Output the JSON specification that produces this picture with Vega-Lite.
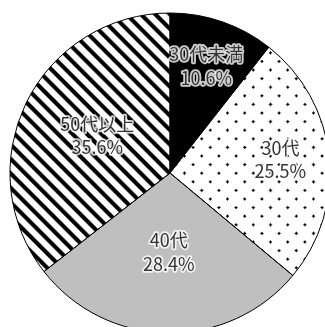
{
  "$schema": "https://vega.github.io/schema/vega-lite/v6.json",
  "width": 325,
  "height": 327,
  "autosize": "none",
  "padding": 0,
  "background": "white",
  "view": {"stroke": null},
  "data": {"values": [
    {"age": "30代未満", "value": 10.6, "order": 1},
    {"age": "30代", "value": 25.5, "order": 2},
    {"age": "40代", "value": 28.4, "order": 3},
    {"age": "50代以上", "value": 35.6, "order": 4}
  ]},
  "transform": [
    {"stack": "value", "groupby": [], "sort": [{"field": "order", "order": "ascending"}], "as": ["v0", "v1"]},
    {"calculate": "(datum.v0 + datum.v1) / 2", "as": "mid"},
    {"calculate": "datum.age + '\\n' + format(datum.value, '.1f') + '%'", "as": "label"}
  ],
  "layer": [
    {
      "mark": {"type": "arc", "x": 170, "y": 173, "outerRadius": 160},
      "encoding": {
        "theta": {"field": "v0", "type": "quantitative", "scale": {"domain": [0, 100.1], "nice": false, "zero": true}},
        "theta2": {"field": "v1"},
        "fill": {"field": "age", "type": "nominal", "scale": {"domain": ["30代未満", "30代", "40代", "50代以上"], "range": ["#000000", "#ffffff", "#bfbfbf", "#ffffff"]}, "legend": null}
      }
    },
    {
      "transform": [{"filter": "datum.age === '50代以上'"}],
      "mark": {"type": "arc", "x": 170, "y": 173, "outerRadius": 160,
        "fill": {"gradient": "linear", "x1": 0, "y1": 1, "x2": 0.7243, "y2": -0.1706, "stops": [
          {"offset": 0, "color": "#000"}, {"offset": 0.0032, "color": "#fff"},
          {"offset": 0.0196, "color": "#fff"}, {"offset": 0.0239, "color": "#000"}, {"offset": 0.0335, "color": "#000"}, {"offset": 0.0378, "color": "#fff"},
          {"offset": 0.0542, "color": "#fff"}, {"offset": 0.0585, "color": "#000"}, {"offset": 0.0681, "color": "#000"}, {"offset": 0.0724, "color": "#fff"},
          {"offset": 0.0887, "color": "#fff"}, {"offset": 0.0930, "color": "#000"}, {"offset": 0.1026, "color": "#000"}, {"offset": 0.1069, "color": "#fff"},
          {"offset": 0.1233, "color": "#fff"}, {"offset": 0.1276, "color": "#000"}, {"offset": 0.1372, "color": "#000"}, {"offset": 0.1415, "color": "#fff"},
          {"offset": 0.1579, "color": "#fff"}, {"offset": 0.1622, "color": "#000"}, {"offset": 0.1718, "color": "#000"}, {"offset": 0.1761, "color": "#fff"},
          {"offset": 0.1924, "color": "#fff"}, {"offset": 0.1967, "color": "#000"}, {"offset": 0.2063, "color": "#000"}, {"offset": 0.2106, "color": "#fff"},
          {"offset": 0.2270, "color": "#fff"}, {"offset": 0.2313, "color": "#000"}, {"offset": 0.2409, "color": "#000"}, {"offset": 0.2452, "color": "#fff"},
          {"offset": 0.2616, "color": "#fff"}, {"offset": 0.2659, "color": "#000"}, {"offset": 0.2755, "color": "#000"}, {"offset": 0.2798, "color": "#fff"},
          {"offset": 0.2961, "color": "#fff"}, {"offset": 0.3004, "color": "#000"}, {"offset": 0.3100, "color": "#000"}, {"offset": 0.3143, "color": "#fff"},
          {"offset": 0.3307, "color": "#fff"}, {"offset": 0.3350, "color": "#000"}, {"offset": 0.3446, "color": "#000"}, {"offset": 0.3489, "color": "#fff"},
          {"offset": 0.3653, "color": "#fff"}, {"offset": 0.3696, "color": "#000"}, {"offset": 0.3792, "color": "#000"}, {"offset": 0.3835, "color": "#fff"},
          {"offset": 0.3998, "color": "#fff"}, {"offset": 0.4041, "color": "#000"}, {"offset": 0.4137, "color": "#000"}, {"offset": 0.4180, "color": "#fff"},
          {"offset": 0.4344, "color": "#fff"}, {"offset": 0.4387, "color": "#000"}, {"offset": 0.4483, "color": "#000"}, {"offset": 0.4526, "color": "#fff"},
          {"offset": 0.4690, "color": "#fff"}, {"offset": 0.4733, "color": "#000"}, {"offset": 0.4829, "color": "#000"}, {"offset": 0.4872, "color": "#fff"},
          {"offset": 0.5035, "color": "#fff"}, {"offset": 0.5078, "color": "#000"}, {"offset": 0.5174, "color": "#000"}, {"offset": 0.5217, "color": "#fff"},
          {"offset": 0.5381, "color": "#fff"}, {"offset": 0.5424, "color": "#000"}, {"offset": 0.5520, "color": "#000"}, {"offset": 0.5563, "color": "#fff"},
          {"offset": 0.5727, "color": "#fff"}, {"offset": 0.5770, "color": "#000"}, {"offset": 0.5866, "color": "#000"}, {"offset": 0.5909, "color": "#fff"},
          {"offset": 0.6072, "color": "#fff"}, {"offset": 0.6115, "color": "#000"}, {"offset": 0.6211, "color": "#000"}, {"offset": 0.6254, "color": "#fff"},
          {"offset": 0.6418, "color": "#fff"}, {"offset": 0.6461, "color": "#000"}, {"offset": 0.6557, "color": "#000"}, {"offset": 0.6600, "color": "#fff"},
          {"offset": 0.6764, "color": "#fff"}, {"offset": 0.6807, "color": "#000"}, {"offset": 0.6903, "color": "#000"}, {"offset": 0.6946, "color": "#fff"},
          {"offset": 0.7109, "color": "#fff"}, {"offset": 0.7152, "color": "#000"}, {"offset": 0.7248, "color": "#000"}, {"offset": 0.7291, "color": "#fff"},
          {"offset": 0.7455, "color": "#fff"}, {"offset": 0.7498, "color": "#000"}, {"offset": 0.7594, "color": "#000"}, {"offset": 0.7637, "color": "#fff"},
          {"offset": 0.7801, "color": "#fff"}, {"offset": 0.7844, "color": "#000"}, {"offset": 0.7940, "color": "#000"}, {"offset": 0.7983, "color": "#fff"},
          {"offset": 0.8146, "color": "#fff"}, {"offset": 0.8189, "color": "#000"}, {"offset": 0.8285, "color": "#000"}, {"offset": 0.8328, "color": "#fff"},
          {"offset": 0.8492, "color": "#fff"}, {"offset": 0.8535, "color": "#000"}, {"offset": 0.8631, "color": "#000"}, {"offset": 0.8674, "color": "#fff"},
          {"offset": 0.8838, "color": "#fff"}, {"offset": 0.8881, "color": "#000"}, {"offset": 0.8977, "color": "#000"}, {"offset": 0.9020, "color": "#fff"},
          {"offset": 0.9183, "color": "#fff"}, {"offset": 0.9226, "color": "#000"}, {"offset": 0.9322, "color": "#000"}, {"offset": 0.9365, "color": "#fff"},
          {"offset": 0.9529, "color": "#fff"}, {"offset": 0.9572, "color": "#000"}, {"offset": 0.9668, "color": "#000"}, {"offset": 0.9711, "color": "#fff"},
          {"offset": 0.9875, "color": "#fff"}, {"offset": 0.9918, "color": "#000"}, {"offset": 1, "color": "#000"}
        ]}},
      "encoding": {
        "theta": {"field": "v0", "type": "quantitative"},
        "theta2": {"field": "v1"}
      }
    },
    {
      "transform": [{"filter": "datum.age === '30代'"}],
      "mark": {"type": "arc", "x": 170, "y": 173, "outerRadius": 160,
        "fill": {"gradient": "linear", "x1": 0, "y1": 0, "x2": 0.7991, "y2": 1.1407, "stops": [
          {"offset": 0.0013, "color": "#fff"}, {"offset": 0.0056, "color": "#000"}, {"offset": 0.0098, "color": "#000"}, {"offset": 0.0141, "color": "#fff"},
          {"offset": 0.0456, "color": "#fff"}, {"offset": 0.0499, "color": "#000"}, {"offset": 0.0541, "color": "#000"}, {"offset": 0.0584, "color": "#fff"},
          {"offset": 0.0899, "color": "#fff"}, {"offset": 0.0942, "color": "#000"}, {"offset": 0.0984, "color": "#000"}, {"offset": 0.1027, "color": "#fff"},
          {"offset": 0.1342, "color": "#fff"}, {"offset": 0.1385, "color": "#000"}, {"offset": 0.1427, "color": "#000"}, {"offset": 0.1470, "color": "#fff"},
          {"offset": 0.1785, "color": "#fff"}, {"offset": 0.1828, "color": "#000"}, {"offset": 0.1870, "color": "#000"}, {"offset": 0.1913, "color": "#fff"},
          {"offset": 0.2228, "color": "#fff"}, {"offset": 0.2271, "color": "#000"}, {"offset": 0.2313, "color": "#000"}, {"offset": 0.2356, "color": "#fff"},
          {"offset": 0.2670, "color": "#fff"}, {"offset": 0.2713, "color": "#000"}, {"offset": 0.2755, "color": "#000"}, {"offset": 0.2798, "color": "#fff"},
          {"offset": 0.3113, "color": "#fff"}, {"offset": 0.3156, "color": "#000"}, {"offset": 0.3198, "color": "#000"}, {"offset": 0.3241, "color": "#fff"},
          {"offset": 0.3556, "color": "#fff"}, {"offset": 0.3599, "color": "#000"}, {"offset": 0.3641, "color": "#000"}, {"offset": 0.3684, "color": "#fff"},
          {"offset": 0.3999, "color": "#fff"}, {"offset": 0.4042, "color": "#000"}, {"offset": 0.4084, "color": "#000"}, {"offset": 0.4127, "color": "#fff"},
          {"offset": 0.4442, "color": "#fff"}, {"offset": 0.4485, "color": "#000"}, {"offset": 0.4527, "color": "#000"}, {"offset": 0.4570, "color": "#fff"},
          {"offset": 0.4885, "color": "#fff"}, {"offset": 0.4928, "color": "#000"}, {"offset": 0.4970, "color": "#000"}, {"offset": 0.5013, "color": "#fff"},
          {"offset": 0.5327, "color": "#fff"}, {"offset": 0.5370, "color": "#000"}, {"offset": 0.5412, "color": "#000"}, {"offset": 0.5455, "color": "#fff"},
          {"offset": 0.5770, "color": "#fff"}, {"offset": 0.5813, "color": "#000"}, {"offset": 0.5855, "color": "#000"}, {"offset": 0.5898, "color": "#fff"},
          {"offset": 0.6213, "color": "#fff"}, {"offset": 0.6256, "color": "#000"}, {"offset": 0.6298, "color": "#000"}, {"offset": 0.6341, "color": "#fff"},
          {"offset": 0.6656, "color": "#fff"}, {"offset": 0.6699, "color": "#000"}, {"offset": 0.6741, "color": "#000"}, {"offset": 0.6784, "color": "#fff"},
          {"offset": 0.7099, "color": "#fff"}, {"offset": 0.7142, "color": "#000"}, {"offset": 0.7184, "color": "#000"}, {"offset": 0.7227, "color": "#fff"},
          {"offset": 0.7542, "color": "#fff"}, {"offset": 0.7585, "color": "#000"}, {"offset": 0.7627, "color": "#000"}, {"offset": 0.7670, "color": "#fff"},
          {"offset": 0.7985, "color": "#fff"}, {"offset": 0.8028, "color": "#000"}, {"offset": 0.8070, "color": "#000"}, {"offset": 0.8113, "color": "#fff"},
          {"offset": 0.8427, "color": "#fff"}, {"offset": 0.8470, "color": "#000"}, {"offset": 0.8512, "color": "#000"}, {"offset": 0.8555, "color": "#fff"},
          {"offset": 0.8870, "color": "#fff"}, {"offset": 0.8913, "color": "#000"}, {"offset": 0.8955, "color": "#000"}, {"offset": 0.8998, "color": "#fff"},
          {"offset": 0.9313, "color": "#fff"}, {"offset": 0.9356, "color": "#000"}, {"offset": 0.9398, "color": "#000"}, {"offset": 0.9441, "color": "#fff"},
          {"offset": 0.9756, "color": "#fff"}, {"offset": 0.9799, "color": "#000"}, {"offset": 0.9841, "color": "#000"}, {"offset": 0.9884, "color": "#fff"}
        ]}},
      "encoding": {
        "theta": {"field": "v0", "type": "quantitative"},
        "theta2": {"field": "v1"}
      }
    },
    {
      "transform": [{"filter": "datum.age === '30代'"}],
      "mark": {"type": "arc", "x": 170, "y": 173, "outerRadius": 160, "blend": "lighten",
        "fill": {"gradient": "linear", "x1": 0, "y1": 1, "x2": 0.7991, "y2": -0.1407, "stops": [
          {"offset": 0.0286, "color": "#fff"}, {"offset": 0.0329, "color": "#000"}, {"offset": 0.0371, "color": "#000"}, {"offset": 0.0414, "color": "#fff"},
          {"offset": 0.0729, "color": "#fff"}, {"offset": 0.0772, "color": "#000"}, {"offset": 0.0814, "color": "#000"}, {"offset": 0.0857, "color": "#fff"},
          {"offset": 0.1172, "color": "#fff"}, {"offset": 0.1215, "color": "#000"}, {"offset": 0.1257, "color": "#000"}, {"offset": 0.1300, "color": "#fff"},
          {"offset": 0.1615, "color": "#fff"}, {"offset": 0.1658, "color": "#000"}, {"offset": 0.1700, "color": "#000"}, {"offset": 0.1743, "color": "#fff"},
          {"offset": 0.2058, "color": "#fff"}, {"offset": 0.2101, "color": "#000"}, {"offset": 0.2143, "color": "#000"}, {"offset": 0.2186, "color": "#fff"},
          {"offset": 0.2500, "color": "#fff"}, {"offset": 0.2543, "color": "#000"}, {"offset": 0.2585, "color": "#000"}, {"offset": 0.2628, "color": "#fff"},
          {"offset": 0.2943, "color": "#fff"}, {"offset": 0.2986, "color": "#000"}, {"offset": 0.3028, "color": "#000"}, {"offset": 0.3071, "color": "#fff"},
          {"offset": 0.3386, "color": "#fff"}, {"offset": 0.3429, "color": "#000"}, {"offset": 0.3471, "color": "#000"}, {"offset": 0.3514, "color": "#fff"},
          {"offset": 0.3829, "color": "#fff"}, {"offset": 0.3872, "color": "#000"}, {"offset": 0.3914, "color": "#000"}, {"offset": 0.3957, "color": "#fff"},
          {"offset": 0.4272, "color": "#fff"}, {"offset": 0.4315, "color": "#000"}, {"offset": 0.4357, "color": "#000"}, {"offset": 0.4400, "color": "#fff"},
          {"offset": 0.4715, "color": "#fff"}, {"offset": 0.4758, "color": "#000"}, {"offset": 0.4800, "color": "#000"}, {"offset": 0.4843, "color": "#fff"},
          {"offset": 0.5158, "color": "#fff"}, {"offset": 0.5201, "color": "#000"}, {"offset": 0.5243, "color": "#000"}, {"offset": 0.5286, "color": "#fff"},
          {"offset": 0.5600, "color": "#fff"}, {"offset": 0.5643, "color": "#000"}, {"offset": 0.5685, "color": "#000"}, {"offset": 0.5728, "color": "#fff"},
          {"offset": 0.6043, "color": "#fff"}, {"offset": 0.6086, "color": "#000"}, {"offset": 0.6128, "color": "#000"}, {"offset": 0.6171, "color": "#fff"},
          {"offset": 0.6486, "color": "#fff"}, {"offset": 0.6529, "color": "#000"}, {"offset": 0.6571, "color": "#000"}, {"offset": 0.6614, "color": "#fff"},
          {"offset": 0.6929, "color": "#fff"}, {"offset": 0.6972, "color": "#000"}, {"offset": 0.7014, "color": "#000"}, {"offset": 0.7057, "color": "#fff"},
          {"offset": 0.7372, "color": "#fff"}, {"offset": 0.7415, "color": "#000"}, {"offset": 0.7457, "color": "#000"}, {"offset": 0.7500, "color": "#fff"},
          {"offset": 0.7815, "color": "#fff"}, {"offset": 0.7858, "color": "#000"}, {"offset": 0.7900, "color": "#000"}, {"offset": 0.7943, "color": "#fff"},
          {"offset": 0.8257, "color": "#fff"}, {"offset": 0.8300, "color": "#000"}, {"offset": 0.8342, "color": "#000"}, {"offset": 0.8385, "color": "#fff"},
          {"offset": 0.8700, "color": "#fff"}, {"offset": 0.8743, "color": "#000"}, {"offset": 0.8785, "color": "#000"}, {"offset": 0.8828, "color": "#fff"},
          {"offset": 0.9143, "color": "#fff"}, {"offset": 0.9186, "color": "#000"}, {"offset": 0.9228, "color": "#000"}, {"offset": 0.9271, "color": "#fff"},
          {"offset": 0.9586, "color": "#fff"}, {"offset": 0.9629, "color": "#000"}, {"offset": 0.9671, "color": "#000"}, {"offset": 0.9714, "color": "#fff"}
        ]}},
      "encoding": {
        "theta": {"field": "v0", "type": "quantitative"},
        "theta2": {"field": "v1"}
      }
    },
    {
      "mark": {"type": "arc", "x": 170, "y": 173, "outerRadius": 160, "fill": "#fff", "fillOpacity": 0, "stroke": "#000", "strokeWidth": 1},
      "encoding": {
        "theta": {"field": "v0", "type": "quantitative"},
        "theta2": {"field": "v1"}
      }
    },
    {
      "mark": {"type": "text", "x": 170, "y": 173, "dy": -11.75, "radius": {"expr": "datum.v1 - datum.v0 < 27 ? 111 : 81"}, "font": "Noto Sans CJK JP", "fontSize": 18, "lineBreak": "\n", "lineHeight": 23.5, "align": "center", "baseline": "middle", "fill": "#fff", "stroke": "#fff", "strokeWidth": 3.5, "strokeOpacity": 0.8, "strokeJoin": "round"},
      "encoding": {
        "theta": {"field": "mid", "type": "quantitative", "stack": null},
        "text": {"field": "label"}
      }
    },
    {
      "mark": {"type": "text", "x": 170, "y": 173, "dy": -11.75, "radius": {"expr": "datum.v1 - datum.v0 < 27 ? 111 : 81"}, "font": "Noto Sans CJK JP", "fontSize": 18, "lineBreak": "\n", "lineHeight": 23.5, "align": "center", "baseline": "middle", "fill": "#333333"},
      "encoding": {
        "theta": {"field": "mid", "type": "quantitative", "stack": null},
        "text": {"field": "label"}
      }
    }
  ]
}
